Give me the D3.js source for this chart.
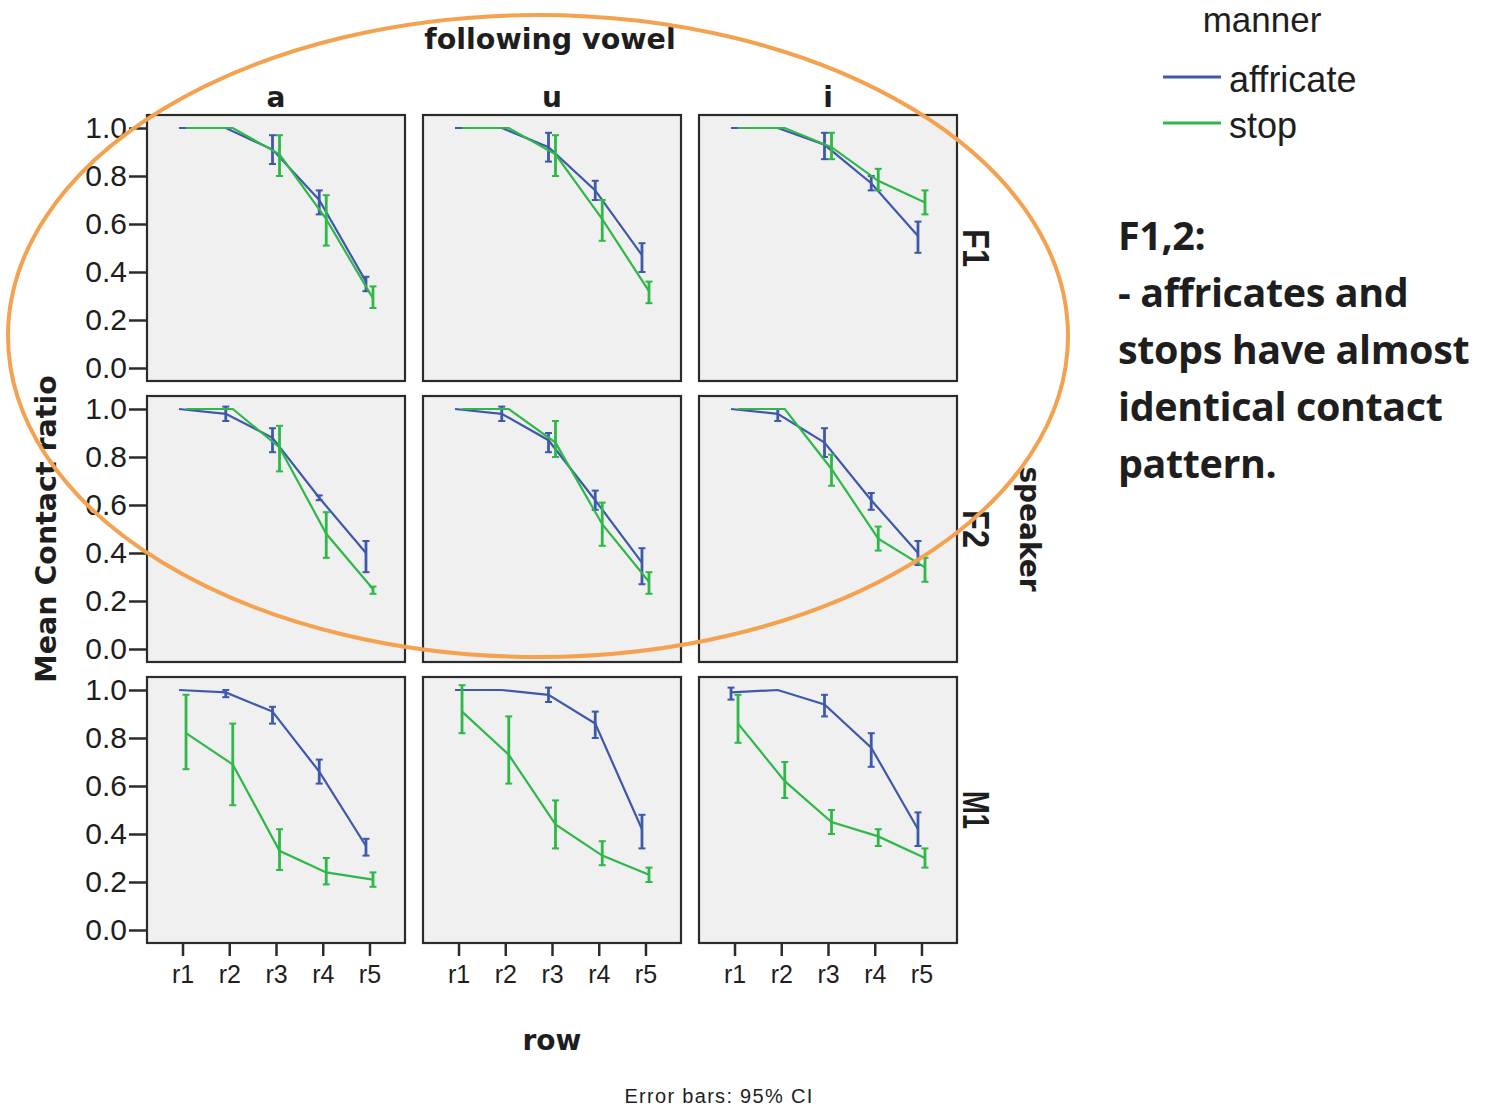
<!doctype html>
<html lang="en">
<head>
<meta charset="utf-8">
<title>Mean Contact ratio by row</title>
<style>
  body { margin: 0; background: #fff; }
  svg text { fill: #1e1e1e; }
</style>
</head>
<body>
<div id="mychart"></div>
<script src="https://d3js.org/d3.v7.min.js"></script>
<script>
// ---- data ----
var vowels = ["a", "u", "i"];
var speakers = ["F1", "F2", "M1"];
var rowLabels = ["r1", "r2", "r3", "r4", "r5"];
var manners = ["affricate", "stop"];
var yTickValues = [0, 0.2, 0.4, 0.6, 0.8, 1.0];

// indexed [speaker][vowel] -> r1..r5
var affricateMean = [
  [[1.00, 1.00, 0.91, 0.70, 0.36], [1.00, 1.00, 0.92, 0.74, 0.47], [1.00, 1.00, 0.93, 0.77, 0.55]],
  [[1.00, 0.98, 0.88, 0.63, 0.40], [1.00, 0.98, 0.87, 0.62, 0.36], [1.00, 0.98, 0.86, 0.62, 0.40]],
  [[1.00, 0.99, 0.91, 0.66, 0.35], [1.00, 1.00, 0.98, 0.86, 0.42], [0.99, 1.00, 0.94, 0.76, 0.42]]
];
var affricateLo = [
  [[1.00, 1.00, 0.85, 0.64, 0.32], [1.00, 1.00, 0.86, 0.70, 0.40], [1.00, 1.00, 0.87, 0.74, 0.48]],
  [[1.00, 0.95, 0.82, 0.62, 0.32], [1.00, 0.95, 0.82, 0.58, 0.27], [1.00, 0.95, 0.80, 0.58, 0.35]],
  [[1.00, 0.97, 0.86, 0.61, 0.31], [1.00, 1.00, 0.95, 0.80, 0.34], [0.96, 1.00, 0.89, 0.68, 0.35]]
];
var affricateHi = [
  [[1.00, 1.00, 0.97, 0.74, 0.38], [1.00, 1.00, 0.98, 0.78, 0.52], [1.00, 1.00, 0.98, 0.80, 0.61]],
  [[1.00, 1.01, 0.92, 0.64, 0.45], [1.00, 1.01, 0.90, 0.66, 0.42], [1.00, 1.00, 0.92, 0.65, 0.45]],
  [[1.00, 1.00, 0.93, 0.71, 0.38], [1.00, 1.00, 1.01, 0.91, 0.48], [1.01, 1.00, 0.98, 0.82, 0.49]]
];
var stopMean = [
  [[1.00, 1.00, 0.89, 0.62, 0.29], [1.00, 1.00, 0.89, 0.62, 0.32], [1.00, 1.00, 0.92, 0.78, 0.69]],
  [[1.00, 1.00, 0.84, 0.48, 0.25], [1.00, 1.00, 0.86, 0.52, 0.28], [1.00, 1.00, 0.75, 0.46, 0.34]],
  [[0.82, 0.69, 0.33, 0.24, 0.21], [0.91, 0.73, 0.44, 0.31, 0.23], [0.86, 0.62, 0.45, 0.39, 0.30]]
];
var stopLo = [
  [[1.00, 1.00, 0.80, 0.51, 0.25], [1.00, 1.00, 0.80, 0.53, 0.27], [1.00, 1.00, 0.87, 0.74, 0.64]],
  [[1.00, 0.99, 0.74, 0.38, 0.23], [1.00, 0.99, 0.80, 0.43, 0.23], [1.00, 0.99, 0.68, 0.41, 0.28]],
  [[0.67, 0.52, 0.25, 0.19, 0.18], [0.82, 0.61, 0.34, 0.27, 0.20], [0.78, 0.55, 0.40, 0.35, 0.26]]
];
var stopHi = [
  [[1.00, 1.00, 0.97, 0.72, 0.34], [1.00, 1.00, 0.97, 0.70, 0.36], [1.00, 1.00, 0.98, 0.83, 0.74]],
  [[1.00, 1.00, 0.93, 0.57, 0.26], [1.00, 1.00, 0.95, 0.61, 0.32], [1.00, 1.00, 0.81, 0.51, 0.38]],
  [[0.98, 0.86, 0.42, 0.30, 0.24], [1.02, 0.89, 0.54, 0.37, 0.26], [0.98, 0.70, 0.50, 0.42, 0.34]]
];

var colors = { affricate: "#3e58ac", stop: "#2eb848" };
var dodge = { affricate: -3.5, stop: 3.5 };

// ---- layout ----
var width = 1486;
var height = 1107;
var svg = d3.select("#mychart").append("svg")
  .attr("width", width)
  .attr("height", height);

var col = d3.scaleBand().domain(vowels).range([147, 957]).paddingInner(18 / 276);
var row = d3.scaleBand().domain(speakers).range([115, 943]).paddingInner(15 / 281);
var pw = col.bandwidth();
var ph = row.bandwidth();

var x = d3.scalePoint().domain(rowLabels).range([0, pw]).padding(0.76);
var y = d3.scaleLinear().domain([0, 1]).range([ph - 13, 13]);

var series = {
  affricate: { mean: affricateMean, lo: affricateLo, hi: affricateHi },
  stop: { mean: stopMean, lo: stopLo, hi: stopHi }
};

var line = d3.line()
  .x(function(d) { return x(d.r) + d.off; })
  .y(function(d) { return y(d.v); });

speakers.forEach(function(sp, si) {
  vowels.forEach(function(vw, vi) {
    var g = svg.append("g")
      .attr("transform", "translate(" + col(vw) + "," + row(sp) + ")");

    g.append("rect")
      .attr("width", pw).attr("height", ph)
      .attr("fill", "#f0f0f0")
      .attr("stroke", "#2b2b2b").attr("stroke-width", 2.2);

    manners.forEach(function(m) {
      var s = series[m];
      var pts = rowLabels.map(function(r, i) {
        return { r: r, off: dodge[m], v: s.mean[si][vi][i], lo: s.lo[si][vi][i], hi: s.hi[si][vi][i] };
      });
      g.append("path")
        .datum(pts)
        .attr("d", line)
        .attr("fill", "none")
        .attr("stroke", colors[m])
        .attr("stroke-width", 2.2);

      var eb = g.selectAll(null).data(pts.filter(function(d) { return d.hi - d.lo > 0.015; }))
        .enter().append("g")
        .attr("stroke", colors[m])
        .attr("stroke-width", 2.8);
      eb.append("line")
        .attr("x1", function(d) { return x(d.r) + d.off; })
        .attr("x2", function(d) { return x(d.r) + d.off; })
        .attr("y1", function(d) { return y(d.lo); })
        .attr("y2", function(d) { return y(d.hi); });
      ["lo", "hi"].forEach(function(k) {
        eb.append("line")
          .attr("stroke-width", 2)
          .attr("x1", function(d) { return x(d.r) + d.off - 3.5; })
          .attr("x2", function(d) { return x(d.r) + d.off + 3.5; })
          .attr("y1", function(d) { return y(d[k]); })
          .attr("y2", function(d) { return y(d[k]); });
      });
    });

    if (vi === 0) {
      var ya = g.append("g").call(d3.axisLeft(y).tickValues(yTickValues).tickSize(18).tickPadding(2).tickFormat(d3.format(".1f")));
      ya.select(".domain").remove();
      ya.selectAll("line").attr("stroke", "#2b2b2b").attr("stroke-width", 2.5);
      ya.selectAll("text").attr("font-family", "Liberation Sans, Arial, sans-serif").attr("font-size", 30).attr("fill", "#222");
    }
    if (si === speakers.length - 1) {
      var xa = g.append("g").attr("transform", "translate(0," + ph + ")")
        .call(d3.axisBottom(x).tickSize(13).tickPadding(9));
      xa.select(".domain").remove();
      xa.selectAll("line").attr("stroke", "#2b2b2b").attr("stroke-width", 2.5);
      xa.selectAll("text").attr("font-family", "Liberation Sans, Arial, sans-serif").attr("font-size", 25).attr("fill", "#222");
    }
  });
});

// ---- facet and axis titles ----
var bold = "DejaVu Sans, sans-serif";
svg.append("text")
  .attr("x", col("u") + pw / 2 - 2).attr("y", 49)
  .attr("text-anchor", "middle")
  .attr("font-family", bold).attr("font-weight", "bold").attr("font-size", 28.5)
  .text("following vowel");

svg.selectAll(".coltitle").data(vowels).enter().append("text")
  .attr("x", function(d) { return col(d) + pw / 2; }).attr("y", 107)
  .attr("text-anchor", "middle")
  .attr("font-family", bold).attr("font-weight", "bold").attr("font-size", 28)
  .text(function(d) { return d; });

svg.selectAll(".rowtitle").data(speakers).enter().append("text")
  .attr("transform", function(d) { return "translate(976," + (row(d) + ph / 2) + ") rotate(90)"; })
  .attr("text-anchor", "middle").attr("dy", "0.36em")
  .attr("font-family", "Liberation Sans, Arial, sans-serif").attr("font-weight", "bold").attr("font-size", 37)
  .attr("textLength", 38).attr("lengthAdjust", "spacingAndGlyphs")
  .text(function(d) { return d; });

svg.append("text")
  .attr("transform", "translate(1030," + (row("F2") + ph / 2) + ") rotate(90)")
  .attr("text-anchor", "middle").attr("dy", "0.36em")
  .attr("font-family", bold).attr("font-weight", "bold").attr("font-size", 28)
  .text("speaker");

svg.append("text")
  .attr("transform", "translate(46," + (row("F2") + ph / 2) + ") rotate(-90)")
  .attr("text-anchor", "middle").attr("dy", "0.36em")
  .attr("font-family", bold).attr("font-weight", "bold").attr("font-size", 28.5)
  .text("Mean Contact ratio");

svg.append("text")
  .attr("x", col("u") + pw / 2).attr("y", 1050)
  .attr("text-anchor", "middle")
  .attr("font-family", bold).attr("font-weight", "bold").attr("font-size", 28)
  .text("row");

svg.append("text")
  .attr("x", 719).attr("y", 1103)
  .attr("text-anchor", "middle")
  .attr("font-family", "Liberation Sans, Arial, sans-serif").attr("font-size", 20)
  .attr("letter-spacing", 1.3)
  .text("Error bars: 95% CI");

// ---- legend ----
var leg = svg.append("g");
leg.append("text")
  .attr("x", 1262).attr("y", 32)
  .attr("text-anchor", "middle")
  .attr("font-family", "Liberation Sans, Arial, sans-serif").attr("font-size", 35)
  .attr("fill", "#333")
  .text("manner");
manners.forEach(function(m, i) {
  var ly = 77 + i * 46;
  leg.append("line")
    .attr("x1", 1163).attr("x2", 1221).attr("y1", ly).attr("y2", ly)
    .attr("stroke", colors[m]).attr("stroke-width", 3);
  leg.append("text")
    .attr("x", 1229).attr("y", ly + 15)
    .attr("font-family", "Liberation Sans, Arial, sans-serif").attr("font-size", 36)
    .attr("fill", "#222")
    .text(m);
});

// ---- annotation ----
var noteLines = ["F1,2:", "- affricates and", "stops have almost", "identical contact", "pattern."];
svg.selectAll(".note").data(noteLines).enter().append("text")
  .attr("x", 1118).attr("y", function(d, i) { return 250 + i * 57; })
  .attr("font-family", "Open Sans, Lato, sans-serif").attr("font-weight", "bold").attr("font-size", 39.5)
  .attr("letter-spacing", -0.4)
  .attr("fill", "#000")
  .text(function(d) { return d; });

svg.append("ellipse")
  .attr("cx", 538).attr("cy", 336).attr("rx", 530).attr("ry", 321)
  .attr("fill", "none")
  .attr("stroke", "#f4a24f").attr("stroke-width", 4);
</script>
</body>
</html>
